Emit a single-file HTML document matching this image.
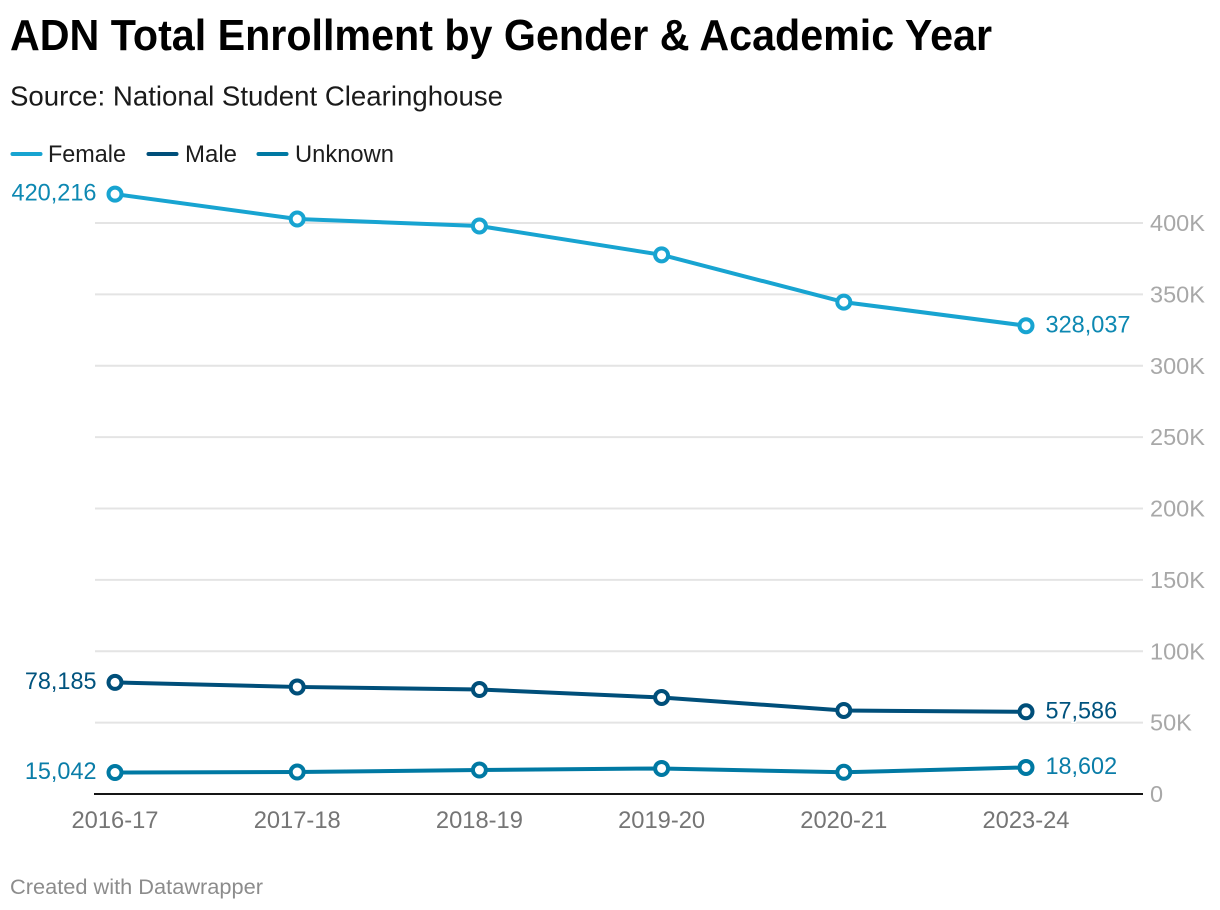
<!DOCTYPE html>
<html lang="en">
<head>
<meta charset="utf-8">
<title>ADN Total Enrollment by Gender &amp; Academic Year</title>
<style>
html,body{margin:0;padding:0;background:#fff;}
body{width:1220px;height:910px;overflow:hidden;}
svg{display:block;font-family:"Liberation Sans",Arial,sans-serif;}
</style>
</head>
<body>
<svg id="chart" width="1220" height="910" viewBox="0 0 1220 910" xmlns="http://www.w3.org/2000/svg">
  <text x="10" y="50" font-size="44" font-weight="700" fill="#000" textLength="982" lengthAdjust="spacingAndGlyphs">ADN Total Enrollment by Gender &amp; Academic Year</text>
  <text x="10" y="105.5" font-size="27.5" fill="#1a1a1a" textLength="493" lengthAdjust="spacingAndGlyphs">Source: National Student Clearinghouse</text>

  <g>
    <line x1="12.5" x2="40.5" y1="154" y2="154" stroke="#18a4d1" stroke-width="4" stroke-linecap="round"/>
    <text x="48" y="162" font-size="24" fill="#1d1d1d" textLength="78" lengthAdjust="spacingAndGlyphs">Female</text>
    <line x1="148.5" x2="176.5" y1="154" y2="154" stroke="#004f7a" stroke-width="4" stroke-linecap="round"/>
    <text x="185" y="162" font-size="24" fill="#1d1d1d" textLength="52" lengthAdjust="spacingAndGlyphs">Male</text>
    <line x1="258.5" x2="286.5" y1="154" y2="154" stroke="#0079a3" stroke-width="4" stroke-linecap="round"/>
    <text x="295" y="162" font-size="24" fill="#1d1d1d" textLength="99" lengthAdjust="spacingAndGlyphs">Unknown</text>
  </g>

  <g id="grid"></g>
  <g id="xaxis"></g>
  <g id="series"></g>

  <text x="10" y="894" font-size="21" fill="#8c8c8c" textLength="253" lengthAdjust="spacingAndGlyphs">Created with Datawrapper</text>
</svg>
<script>
const categories = ['2016-17', '2017-18', '2018-19', '2019-20', '2020-21', '2023-24'];
const yTicks = [0, 50000, 100000, 150000, 200000, 250000, 300000, 350000, 400000];
const yTickLabels = ['0', '50K', '100K', '150K', '200K', '250K', '300K', '350K', '400K'];
const femaleValues = [420216, 402800, 397900, 377700, 344600, 328037];
const maleValues = [78185, 75000, 73200, 67600, 58500, 57586];
const unknownValues = [15042, 15400, 16800, 17900, 15200, 18602];

const svgNS = 'http://www.w3.org/2000/svg';
const xScale = i => 115 + i * (1026 - 115) / (categories.length - 1);
const yScale = v => 794 - v * 571 / 400000;
const fmt = v => String(Math.round(v)).replace(/\B(?=(\d{3})+$)/g, ',');
const numWidth = s => s.replace(/,/g, '').length * 13.4 + (s.match(/,/g) || []).length * 4.6;

function make(parent, tag, attrs, text) {
  const el = document.createElementNS(svgNS, tag);
  for (const k in attrs) el.setAttribute(k, attrs[k]);
  if (text !== undefined) el.textContent = text;
  parent.appendChild(el);
  return el;
}

const grid = document.getElementById('grid');
yTicks.forEach((t, i) => {
  if (t > 0) {
    const line = make(grid, 'line', {x1: 95, x2: 1143, y1: yScale(t), y2: yScale(t), stroke: '#e4e4e4', 'stroke-width': 2});
    
    
  }
  const label = make(grid, 'text', {x: 1150, y: yScale(t) + 8, 'font-size': 23.5, fill: '#a8a8a8'}, yTickLabels[i]);
  
  
});

const xaxis = document.getElementById('xaxis');
const baseline = make(xaxis, 'line', {x1: 94, x2: 1143, y1: yScale(0), y2: yScale(0), stroke: '#151515', 'stroke-width': 2});


categories.forEach((c, i) => {
  const label = make(xaxis, 'text', {x: xScale(i), y: 828, 'font-size': 24.5, fill: '#757575', 'text-anchor': 'middle', textLength: 87, lengthAdjust: 'spacingAndGlyphs'}, c);
  
  
});

const seriesRoot = document.getElementById('series');
function drawSeries(values, color, labelColor, key) {
  const g = make(seriesRoot, 'g', {});
  
  
  const line = make(g, 'polyline', {
    points: values.map((v, i) => xScale(i) + ',' + yScale(v)).join(' '),
    fill: 'none', stroke: color, 'stroke-width': 4, 'stroke-linejoin': 'round', 'stroke-linecap': 'round'
  });
  
  
  values.forEach((v, i) => {
    const p = make(g, 'circle', {cx: xScale(i), cy: yScale(v), r: 6.5, fill: '#fff', stroke: color, 'stroke-width': 4});
    
    
  });
  const last = values.length - 1;
  const firstText = fmt(values[0]);
  const first = make(g, 'text', {x: 96.5, y: yScale(values[0]) + 6.5, 'font-size': 24.5, fill: labelColor, 'text-anchor': 'end', stroke: '#fff', 'stroke-width': 3, 'paint-order': 'stroke', textLength: numWidth(firstText), lengthAdjust: 'spacingAndGlyphs'}, firstText);
  
  
  const lastText = fmt(values[last]);
  const end = make(g, 'text', {x: 1045.5, y: yScale(values[last]) + 6.8, 'font-size': 24.5, fill: labelColor, stroke: '#fff', 'stroke-width': 3, 'paint-order': 'stroke', textLength: numWidth(lastText), lengthAdjust: 'spacingAndGlyphs'}, lastText);
  
  
}
drawSeries(unknownValues, '#0079a3', '#0a7da8', 'unknown');
drawSeries(maleValues, '#004f7a', '#00537e', 'male');
drawSeries(femaleValues, '#18a4d1', '#0d88b2', 'female');
</script>
</body>
</html>
